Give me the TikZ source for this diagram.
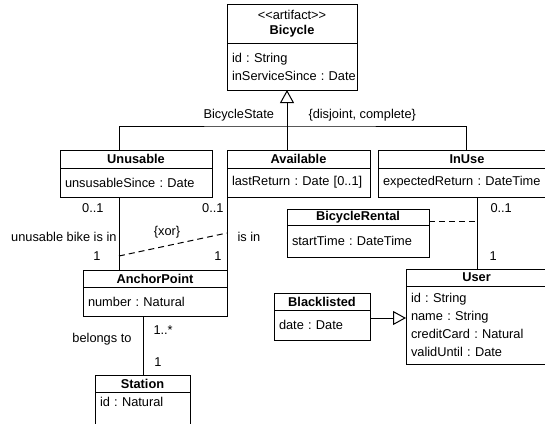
\documentclass[tikz,border=0pt]{standalone}
\usepackage{fontspec}
\setmainfont{Liberation Sans}
\usetikzlibrary{arrows.meta,positioning}

\newcommand\umlfont{\fontsize{12.8}{18}\selectfont\frenchspacing}

\tikzset{
  cls/.style={draw,rectangle,outer sep=0pt,inner xsep=5pt,inner ysep=0pt,
    align=center,font=\umlfont\bfseries,text width=#1,anchor=north west,
    minimum height=17pt},
  attrs/.style={draw,rectangle,outer sep=0pt,inner xsep=5pt,inner ysep=0pt,
    align=left,text width=#1},
  gen/.style={-{Triangle[open,length=13pt,width=14pt]}},
  lbl/.style={inner sep=0pt}
}

\begin{document}
\begin{tikzpicture}[x=1pt,y=-1pt,line width=1pt,font=\umlfont]
\useasboundingbox (0,0) rectangle (545,423);
\clip (0,0) rectangle (545,423);

% classes
\node[cls=120pt,minimum height=39pt] (bike) at (227,4)
  {\textmd{<\kern0pt<artifact>\kern0pt>}\\[-3pt]Bicycle};
\node[attrs=120pt,minimum height=47pt,below=0pt of bike] (bikeA)
  {id~:~String\\inServiceSince~:~Date};

\node[cls=142pt,minimum height=18pt] (unusable) at (60,150) {Unusable};
\node[attrs=142pt,minimum height=29pt,below=0pt of unusable] (unusableA)
  {unsusableSince~:~Date};

\node[cls=133pt,minimum height=18pt] (available) at (227,150) {Available};
\node[attrs=133pt,minimum height=29pt,below=0pt of available] (availableA)
  {lastReturn~:~Date~[0..1]};

\node[cls=168pt,minimum height=18pt] (inuse) at (378,150) {InUse};
\node[attrs=168pt,minimum height=29pt,below=0pt of inuse] (inuseA)
  {expectedReturn~:~DateTime};

\node[cls=132pt,minimum height=16pt] (rental) at (287,209) {BicycleRental};
\node[attrs=132pt,minimum height=32pt,below=0pt of rental] (rentalA)
  {startTime~:~DateTime};

\node[cls=134pt] (anchor) at (83,270) {AnchorPoint};
\node[attrs=134pt,minimum height=29pt,below=0pt of anchor] (anchorA)
  {number~:~Natural};

\node[cls=131pt] (user) at (406,269) {User};
\node[attrs=131pt,minimum height=78pt,below=0pt of user] (userA)
  {id~:~String\\name~:~String\\creditCard~:~Natural\\validUntil~:~Date};

\node[cls=86pt] (black) at (274,293) {Blacklisted};
\node[attrs=86pt,minimum height=30pt,below=0pt of black] (blackA)
  {date~:~Date};

\node[cls=85pt] (station) at (95,375) {Station};
\node[attrs=85pt,text height=14pt,text depth=26pt,below=0pt of station] (stationA)
  {id~:~Natural};

% generalization set
\coordinate (fork) at (287,126);
\coordinate (colU) at (119,0);
\coordinate (colI) at (466,0);
\coordinate (colR) at (477,0);
\coordinate (colS) at (143,0);
\draw[gen] (fork) -- (fork |- bikeA.south);
\draw (unusable.north -| colU) |- (fork) -| (inuse.north -| colI);
\draw (fork) -- (available.north -| fork);
\node[lbl,anchor=west] (gname) at (203,115) {BicycleState};
\node[lbl,anchor=west] (gcons) at (308,115) {\{disjoint, complete\}};

% associations
\draw (unusableA.south -| colU) -- (anchor.north -| colU);
\draw (availableA.south west) -- (anchor.north east);
\draw (inuseA.south -| colR) -- (user.north -| colR);
\draw (anchorA.south -| colS) -- (station.north -| colS);

\coordinate (xorU) at (119,256);
\coordinate (xorA) at (227,233);
\draw[dash pattern=on 6pt off 4pt] (xorU) -- (xorA);
\coordinate (rowR) at (0,221);
\draw[dash pattern=on 6pt off 4pt] (rentalA.north east |- rowR) -- (colR |- rowR);

\coordinate (rowB) at (0,318);
\draw[gen] (blackA.east |- rowB) -- (userA.west |- rowB);

% ends and roles
\node[lbl,anchor=east] (mU1) at (104,208) {0..1};
\node[lbl,anchor=east] (rU) at (117,237) {unusable bike is in};
\node[lbl,anchor=east] (mU2) at (101,256) {1};
\node[lbl,anchor=east] (mA1) at (224,208) {0..1};
\node[lbl,anchor=east] (mA2) at (222,256) {1};
\node[lbl,anchor=west] (rA) at (237,237) {is in};
\node[lbl] (xor) at (167,232) {\{xor\}};
\node[lbl,anchor=west] (mI1) at (490,208) {0..1};
\node[lbl,anchor=west] (mI2) at (489,256) {1};
\node[lbl,anchor=west] (mS1) at (153,330) {1..*};
\node[lbl] (mS2) at (158,362) {1};
\node[lbl,anchor=east] (rS) at (132,339) {belongs to};
\end{tikzpicture}
\end{document}
